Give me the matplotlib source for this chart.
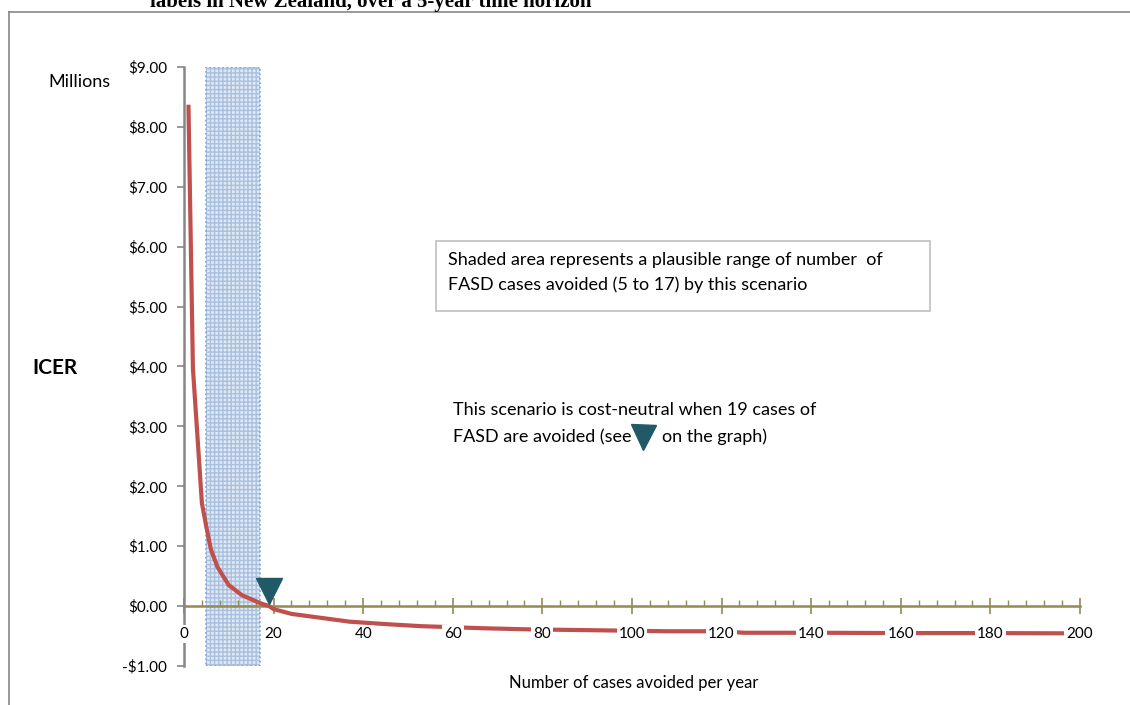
import numpy as np
import matplotlib
matplotlib.use("Agg")
import matplotlib.pyplot as plt
from matplotlib.lines import Line2D
from matplotlib.patches import Rectangle

plt.rcParams['font.family'] = ['Lato', 'DejaVu Sans']

# data (ICER in millions of dollars)
cases = [1, 2, 4, 5, 6, 7.5, 10, 13, 17, 19, 20, 24, 30, 37, 46, 53, 67, 78,
         89, 108, 120, 125, 141, 160, 178, 200]
icer = [8.37, 3.97, 1.72, 1.32, 0.95, 0.65, 0.35, 0.18, 0.05, 0.0, -0.05,
        -0.13, -0.19, -0.26, -0.305, -0.335, -0.37, -0.39,
        -0.40, -0.42, -0.42, -0.445, -0.445, -0.45, -0.45, -0.455]

shade_lo, shade_hi = 5, 17        # plausible range of cases avoided
neutral_cases = 19                # cost-neutral point

y_ticks = [-1, 0, 1, 2, 3, 4, 5, 6, 7, 8, 9]
y_labels = ['-$1.00', '$0.00', '$1.00', '$2.00', '$3.00', '$4.00',
            '$5.00', '$6.00', '$7.00', '$8.00', '$9.00']
x_ticks = [0, 20, 40, 60, 80, 100, 120, 140, 160, 180, 200]
x_labels = [str(v) for v in x_ticks]

fig = plt.figure(figsize=(11.3, 7.05), dpi=100)
ax = fig.add_axes([0.1628, 0.0553, 0.7929, 0.8497])

# shaded range
ax.axvspan(shade_lo, shade_hi, facecolor='#dfe8f3', edgecolor='#a9c0df',
           hatch='++++', linewidth=0, zorder=1)
ax.axvspan(shade_lo, shade_hi, facecolor='none', edgecolor='#7f9fcb',
           linestyle=':', linewidth=1.2, zorder=1.1)

ax.plot(cases, icer, color='#C0504D', linewidth=3, zorder=3,
        solid_capstyle='butt')

ax.plot([neutral_cases], [0.25], marker='v', markersize=19,
        color='#215967', linestyle='none', zorder=4)

ax.set_xlim(0, 200)
ax.set_ylim(-1, 9)

for s in ['top', 'right']:
    ax.spines[s].set_visible(False)
ax.spines['left'].set_color('#868686')
ax.spines['left'].set_linewidth(1.8)
ax.spines['bottom'].set_position(('data', 0))
ax.spines['bottom'].set_color('#948A54')
ax.spines['bottom'].set_linewidth(1.8)
ax.spines['bottom'].set_zorder(2)

ax.set_yticks(y_ticks)
ax.set_yticklabels(y_labels)
ax.tick_params(axis='y', direction='out', length=5, width=1.2,
               color='#868686', labelsize=11, pad=7, labelcolor='#000000')

ax.set_xticks(x_ticks)
ax.set_xticks(np.arange(0, 201, 4), minor=True)
ax.tick_params(axis='x', which='major', direction='inout', length=12,
               width=1.2, color='#948A54', labelbottom=False)
ax.tick_params(axis='x', which='minor', direction='in', length=4,
               width=1.0, color='#948A54')

# x tick labels with white backing (they sit over the curve)
for xv, lab in zip(x_ticks, x_labels):
    ax.text(xv, -0.47, lab, ha='center', va='center', fontsize=11,
            zorder=6, clip_on=False,
            bbox=dict(facecolor='white', edgecolor='none', pad=1.5))

fig.text(0.0425, 0.884, 'Millions', fontsize=13, ha='left', va='center')
fig.text(0.029, 0.478, 'ICER', fontsize=15, fontweight='bold',
         ha='left', va='center')
fig.text(0.561, 0.031, 'Number of cases avoided per year', fontsize=12,
         ha='center', va='center')

# annotation box 1
fig.patches.append(Rectangle((436 / 1130, 1 - 311 / 705), 494 / 1130,
                             70 / 705, transform=fig.transFigure,
                             facecolor='white', edgecolor='#bfbfbf',
                             linewidth=1.2))
fig.text(448 / 1130, 1 - 260 / 705,
         'Shaded area represents a plausible range of number  of',
         fontsize=13, ha='left', va='center')
fig.text(448 / 1130, 1 - 285 / 705,
         'FASD cases avoided (5 to 17) by this scenario',
         fontsize=13, ha='left', va='center')

# annotation 2
fig.text(453 / 1130, 1 - 410 / 705,
         'This scenario is cost-neutral when 19 cases of',
         fontsize=13, ha='left', va='center')
fig.text(453 / 1130, 1 - 437 / 705, 'FASD are avoided (see',
         fontsize=13, ha='left', va='center')
fig.add_artist(Line2D([643 / 1130], [1 - 437 / 705], marker='v',
                      markersize=18, color='#215967', linestyle='none',
                      transform=fig.transFigure))
fig.text(662 / 1130, 1 - 437 / 705, 'on the graph)',
         fontsize=13, ha='left', va='center')

# clipped title and frame of the page
fig.text(150 / 1130, 1 - 7 / 705,
         'labels in New Zealand, over a 5-year time horizon',
         fontsize=15, fontweight='bold', family='Liberation Serif',
         ha='left', va='baseline')
fig.add_artist(Line2D([9 / 1130, 1], [1 - 12 / 705, 1 - 12 / 705],
                      color='#868686', linewidth=1.2,
                      transform=fig.transFigure))
fig.add_artist(Line2D([9 / 1130, 9 / 1130], [0, 1 - 12 / 705],
                      color='#868686', linewidth=1.2,
                      transform=fig.transFigure))

plt.savefig('out.png', dpi=100)
